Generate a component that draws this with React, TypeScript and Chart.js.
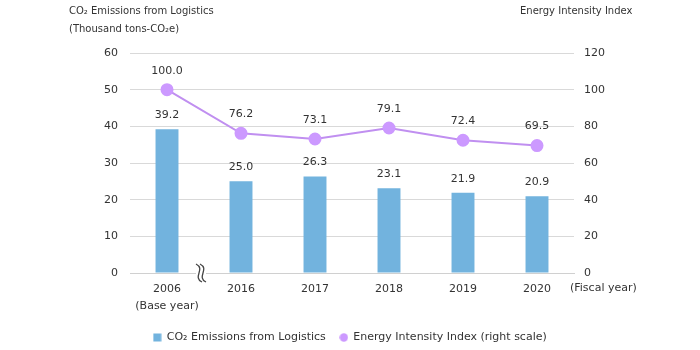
import React, { useEffect, useRef } from "react";
import { Chart, registerables } from "chart.js";

Chart.register(...registerables);

const categories: (string | string[])[] = [["2006", "(Base year)"], "2016", "2017", "2018", "2019", "2020"];
const emissions = [39.2, 25.0, 26.3, 23.1, 21.9, 20.9];
const intensity = [100.0, 76.2, 73.1, 79.1, 72.4, 69.5];
const leftTicksMax = 60;
const rightTicksMax = 120;

const FONT = "'DejaVu Sans', Verdana, sans-serif";
const TEXT = "#333333";
const BAR = "#72b3de";
const LINE = "#c08ff0";
const POINT = "#cc99ff";

function makeIcon(kind: "rect" | "circle"): HTMLCanvasElement {
  const c = document.createElement("canvas");
  c.width = 9;
  c.height = 9;
  const g = c.getContext("2d") as CanvasRenderingContext2D;
  if (kind === "rect") {
    g.fillStyle = BAR;
    g.fillRect(0.5, 0.5, 8, 8);
  } else {
    g.fillStyle = POINT;
    g.beginPath();
    g.arc(4.5, 4.5, 4.2, 0, Math.PI * 2);
    g.fill();
  }
  return c;
}

const overlay = {
  id: "overlay",
  afterDatasetsDraw(chart: any) {
    const ctx = chart.ctx;
    ctx.save();
    ctx.font = `11px ${FONT}`;
    ctx.fillStyle = TEXT;
    ctx.textAlign = "center";
    ctx.textBaseline = "middle";
    const barMeta = chart.getDatasetMeta(0);
    barMeta.data.forEach((el: any, i: number) => {
      ctx.fillText(emissions[i].toFixed(1), el.x, el.y - 14);
    });
    const lineMeta = chart.getDatasetMeta(1);
    lineMeta.data.forEach((el: any, i: number) => {
      ctx.fillText(intensity[i].toFixed(1), el.x, el.y - 19);
    });
    ctx.restore();
  },
  afterDraw(chart: any) {
    const ctx = chart.ctx;
    const x = chart.scales.x;
    const area = chart.chartArea;
    ctx.save();
    // axis break symbol
    const bx = (x.getPixelForValue(0) + x.getPixelForValue(1)) / 2 - 3;
    const by = area.bottom;
    ctx.fillStyle = "#ffffff";
    ctx.fillRect(bx - 5, by - 3, 10, 6);
    ctx.strokeStyle = "#444444";
    ctx.lineWidth = 1.3;
    for (const off of [-2, 2]) {
      ctx.beginPath();
      ctx.moveTo(bx + off - 3, by - 9);
      ctx.bezierCurveTo(bx + off + 7, by - 4, bx + off - 7, by + 4, bx + off + 3, by + 9);
      ctx.stroke();
    }
    // titles
    ctx.fillStyle = TEXT;
    ctx.textBaseline = "middle";
    ctx.textAlign = "left";
    ctx.font = `10px ${FONT}`;
    ctx.fillText("CO₂ Emissions from Logistics", 69, 11);
    ctx.fillText("(Thousand tons-CO₂e)", 69, 29);
    ctx.fillText("Energy Intensity Index", 520, 11);
    ctx.font = `11px ${FONT}`;
    ctx.fillText("(Fiscal year)", 570, 288);
    ctx.restore();
  },
};

export default function App() {
  const ref = useRef<HTMLCanvasElement | null>(null);
  useEffect(() => {
    document.body.style.margin = "0";
    const rectIcon = makeIcon("rect");
    const circleIcon = makeIcon("circle");
    const chart = new Chart(ref.current as HTMLCanvasElement, {
      data: {
        labels: categories,
        datasets: [
          {
            type: "bar",
            label: "CO₂ Emissions from Logistics",
            data: emissions,
            backgroundColor: BAR,
            borderWidth: 0,
            barPercentage: 0.31,
            categoryPercentage: 1,
            yAxisID: "y",
            order: 2,
          },
          {
            type: "line",
            label: "Energy Intensity Index (right scale)",
            data: intensity,
            borderColor: LINE,
            backgroundColor: POINT,
            borderWidth: 2,
            pointRadius: 5.5,
            pointBackgroundColor: POINT,
            pointBorderColor: POINT,
            pointStyle: "circle",
            yAxisID: "y1",
            order: 1,
          },
        ],
      } as any,
      options: {
        animation: false,
        responsive: false,
        layout: { padding: { top: 53, left: 0, right: 0, bottom: -3 } },
        plugins: {
          tooltip: { enabled: false },
          legend: {
            position: "bottom",
            labels: {
              color: TEXT,
              font: { family: FONT, size: 11 },
              usePointStyle: true,
              boxWidth: 8,
              boxHeight: 8,
              padding: 14,
              sort: (a: any, b: any) => a.datasetIndex - b.datasetIndex,
              generateLabels: (chart: any) => {
                const base = Chart.defaults.plugins.legend.labels.generateLabels(chart);
                return base.map((l: any) => {
                  const isBar = l.datasetIndex === 0;
                  return {
                    ...l,
                    pointStyle: isBar ? rectIcon : circleIcon,
                    fillStyle: isBar ? BAR : POINT,
                    strokeStyle: isBar ? BAR : POINT,
                    lineWidth: 0,
                  };
                });
              },
            },
          },
        },
        scales: {
          x: {
            grid: { display: false, drawTicks: false },
            border: { color: "#d0d0d0", width: 1 },
            ticks: { color: TEXT, font: { family: FONT, size: 11, lineHeight: 1.6 }, padding: 7, maxRotation: 0 },
            afterFit: (s: any) => { s.height = 45; },
          },
          y: {
            position: "left",
            min: 0,
            max: leftTicksMax,
            ticks: { stepSize: 10, color: TEXT, font: { family: FONT, size: 11 }, padding: 12 },
            grid: { color: "#d9d9d9", lineWidth: 1, drawTicks: false },
            border: { display: false },
            afterFit: (s: any) => { s.width = 130; },
          },
          y1: {
            position: "right",
            min: 0,
            max: rightTicksMax,
            ticks: { stepSize: 20, color: TEXT, font: { family: FONT, size: 11 }, padding: 10 },
            grid: { display: false, drawTicks: false },
            border: { display: false },
            afterFit: (s: any) => { s.width = 126; },
          },
        },
      },
      plugins: [overlay],
    } as any);
    return () => chart.destroy();
  }, []);
  return (
    <div style={{ width: 700, height: 350 }}>
      <canvas ref={ref} width={700} height={350} style={{ display: "block" }} />
    </div>
  );
}
